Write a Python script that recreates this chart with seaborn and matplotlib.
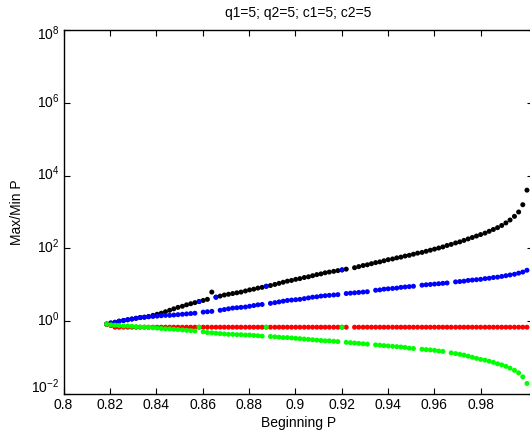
import numpy as np
import pandas as pd
import matplotlib
matplotlib.use("Agg")
import matplotlib.pyplot as plt
import matplotlib.transforms as mtransforms
import seaborn as sns

# Beginning P values (x axis)
begin_p = [
    0.8186, 0.8204, 0.8222, 0.8240, 0.8259, 0.8277, 0.8295, 0.8313, 0.8331, 0.8349,
    0.8367, 0.8386, 0.8404, 0.8422, 0.8440, 0.8458, 0.8476, 0.8494, 0.8513, 0.8531,
    0.8549, 0.8567, 0.8585, 0.8603, 0.8621, 0.8640, 0.8658, 0.8676, 0.8694, 0.8712,
    0.8730, 0.8748, 0.8766, 0.8785, 0.8803, 0.8821, 0.8839, 0.8857, 0.8875, 0.8893,
    0.8912, 0.8930, 0.8948, 0.8966, 0.8984, 0.9002, 0.9020, 0.9039, 0.9057, 0.9075,
    0.9093, 0.9111, 0.9129, 0.9147, 0.9166, 0.9184, 0.9202, 0.9220, 0.9238, 0.9256,
    0.9274, 0.9293, 0.9311, 0.9329, 0.9347, 0.9365, 0.9383, 0.9401, 0.9420, 0.9438,
    0.9456, 0.9474, 0.9492, 0.9510, 0.9528, 0.9547, 0.9565, 0.9583, 0.9601, 0.9619,
    0.9637, 0.9655, 0.9673, 0.9692, 0.9710, 0.9728, 0.9746, 0.9764, 0.9782, 0.9800,
    0.9819, 0.9837, 0.9855, 0.9873, 0.9891, 0.9909, 0.9927, 0.9946, 0.9964, 0.9982,
    1.0000,
]

nan = np.nan

# log10 of Max/Min P
black_exp = [
    -0.08, -0.05, -0.03, 0.00, 0.02, 0.04, 0.06, 0.08, 0.10, 0.11,
    0.13, 0.16, 0.19, 0.22, 0.26, 0.30, 0.34, 0.38, 0.41, 0.45,
    0.48, 0.51, 0.54, 0.57, 0.60, 0.80, 0.66, 0.69, 0.72, 0.74,
    0.76, 0.78, 0.80, 0.83, 0.86, 0.88, 0.91, 0.93, 0.96, 0.98,
    1.01, 1.04, 1.07, 1.10, 1.12, 1.15, 1.17, 1.20, 1.22, 1.25,
    1.28, 1.30, 1.33, 1.35, 1.37, 1.39, 1.41, 1.43, nan, 1.47,
    1.50, 1.53, 1.55, 1.58, 1.61, 1.63, 1.66, 1.69, 1.71, 1.74,
    1.76, 1.79, 1.81, 1.84, 1.87, 1.89, 1.92, 1.95, 1.98, 2.01,
    2.04, 2.08, 2.11, 2.15, 2.18, 2.22, 2.26, 2.30, 2.34, 2.38,
    2.42, 2.47, 2.52, 2.57, 2.63, 2.70, 2.78, 2.88, 3.00, 3.20,
    3.60,
]
blue_exp = [
    -0.08, -0.05, -0.03, 0.00, 0.02, 0.04, 0.06, 0.08, 0.10, 0.11,
    0.12, 0.13, 0.14, 0.15, 0.16, 0.16, 0.17, 0.18, 0.19, 0.20,
    0.21, 0.22, 0.54, 0.25, 0.26, 0.27, 0.66, 0.30, 0.32, 0.34,
    0.36, 0.37, 0.38, 0.39, 0.41, 0.43, 0.45, 0.46, 0.96, 0.49,
    0.51, 0.53, 0.55, 0.57, 0.58, 0.59, 0.60, 0.62, 0.64, 0.66,
    0.67, 0.69, 0.70, 0.71, 0.72, 0.73, 1.41, 0.76, 0.77, 0.78,
    0.79, 0.80, 0.81, nan, 0.85, 0.86, 0.88, 0.89, 0.90, 0.91,
    0.93, 0.94, 0.95, 0.96, nan, 0.99, 1.00, 1.01, 1.02, 1.03,
    1.04, 1.05, nan, 1.08, 1.09, 1.10, 1.12, 1.13, 1.14, 1.15,
    1.17, 1.18, 1.20, 1.21, 1.23, 1.25, 1.27, 1.29, 1.32, 1.35,
    1.40,
]
red_exp = [-0.08, -0.12] + [-0.165] * 56 + [nan] + [-0.165] * 42
green_exp = [
    -0.08, -0.10, -0.11, -0.12, -0.13, -0.13, -0.14, -0.15, -0.16, -0.16,
    -0.17, -0.18, -0.19, -0.20, -0.21, -0.21, -0.22, -0.23, -0.24, -0.25,
    -0.26, -0.27, -0.165, -0.29, -0.31, -0.32, -0.33, -0.34, -0.35, -0.36,
    -0.36, -0.37, -0.37, -0.38, -0.38, -0.39, -0.40, -0.41, -0.165, -0.42,
    -0.43, -0.44, -0.45, -0.45, -0.46, -0.47, -0.48, -0.49, -0.50, -0.51,
    -0.52, -0.53, -0.54, -0.54, -0.55, -0.56, -0.165, -0.58, -0.59, -0.60,
    -0.61, -0.62, -0.63, nan, -0.65, -0.66, -0.67, -0.68, -0.69, -0.70,
    -0.71, -0.72, -0.74, -0.75, nan, -0.77, -0.78, -0.79, -0.80, -0.82,
    -0.83, nan, -0.87, -0.89, -0.91, -0.93, -0.96, -0.99, -1.02, -1.05,
    -1.07, -1.10, -1.13, -1.17, -1.20, -1.24, -1.29, -1.35, -1.42, -1.53,
    -1.71,
]

x_ticks = [0.8, 0.82, 0.84, 0.86, 0.88, 0.9, 0.92, 0.94, 0.96, 0.98]
x_ticklabels = ["0.8", "0.82", "0.84", "0.86", "0.88", "0.9", "0.92", "0.94", "0.96", "0.98"]
y_ticks = [1e-2, 1e0, 1e2, 1e4, 1e6, 1e8]

series = {"black": black_exp, "blue": blue_exp, "red": red_exp, "green": green_exp}
colors = {"black": "#000000", "blue": "#0000ff", "red": "#ff0000", "green": "#00ff00"}

frames = []
for name, ex in series.items():
    frames.append(pd.DataFrame({"P": begin_p, "ratio": 10 ** np.array(ex, dtype=float), "series": name}))
df = pd.concat(frames, ignore_index=True).dropna()

sns.set_style("ticks")
plt.rcParams["font.family"] = ["Liberation Sans", "DejaVu Sans"]
plt.rcParams["mathtext.fontset"] = "custom"
plt.rcParams["mathtext.rm"] = "Liberation Sans"
plt.rcParams["mathtext.it"] = "Liberation Sans:italic"
plt.rcParams["text.color"] = "black"
plt.rcParams["axes.labelcolor"] = "black"

fig = plt.figure(figsize=(5.30, 4.34), dpi=100)
ax = fig.add_axes([63.5 / 530, 40 / 434, (533 - 63.5) / 530, 364 / 434])

sns.scatterplot(data=df, x="P", y="ratio", hue="series", palette=colors,
                hue_order=list(series.keys()), s=13, linewidth=0, legend=False, ax=ax)

ax.set_yscale("log")
ax.set_xlim(0.8, 1.0026)
ax.set_ylim(1e-2, 1e8)
ax.set_xticks(x_ticks)
ax.set_xticklabels(x_ticklabels)
ax.set_yticks(y_ticks)
ax.yaxis.set_minor_locator(matplotlib.ticker.NullLocator())
ax.tick_params(direction="in", length=4, width=0.8, top=True, right=True,
               labelsize=10, colors="black", pad=3)
for sp in ax.spines.values():
    sp.set_visible(True)
    sp.set_linewidth(1.0)
    sp.set_color("black")
ax.spines["right"].set_visible(False)  # lies past the cropped edge in the original

# MATLAB-like placement of the log tick labels: the "10" sits on the tick,
# the end labels are pulled inside the axis range
fig.canvas.draw()
labels = ax.get_yticklabels()
for k, lab in enumerate(labels):
    dy = 3
    if k == 0:
        dy = 9
    elif k == len(labels) - 1:
        dy = -2
    lab.set_transform(lab.get_transform() + mtransforms.ScaledTranslation(0, dy / 100, fig.dpi_scale_trans))

ax.set_xlabel("Beginning P", fontsize=10, labelpad=3)
ax.set_ylabel("Max/Min P", fontsize=10, labelpad=5)
ax.set_title("q1=5; q2=5; c1=5; c2=5", fontsize=10, pad=9)

fig.savefig("out.png", dpi=100)
